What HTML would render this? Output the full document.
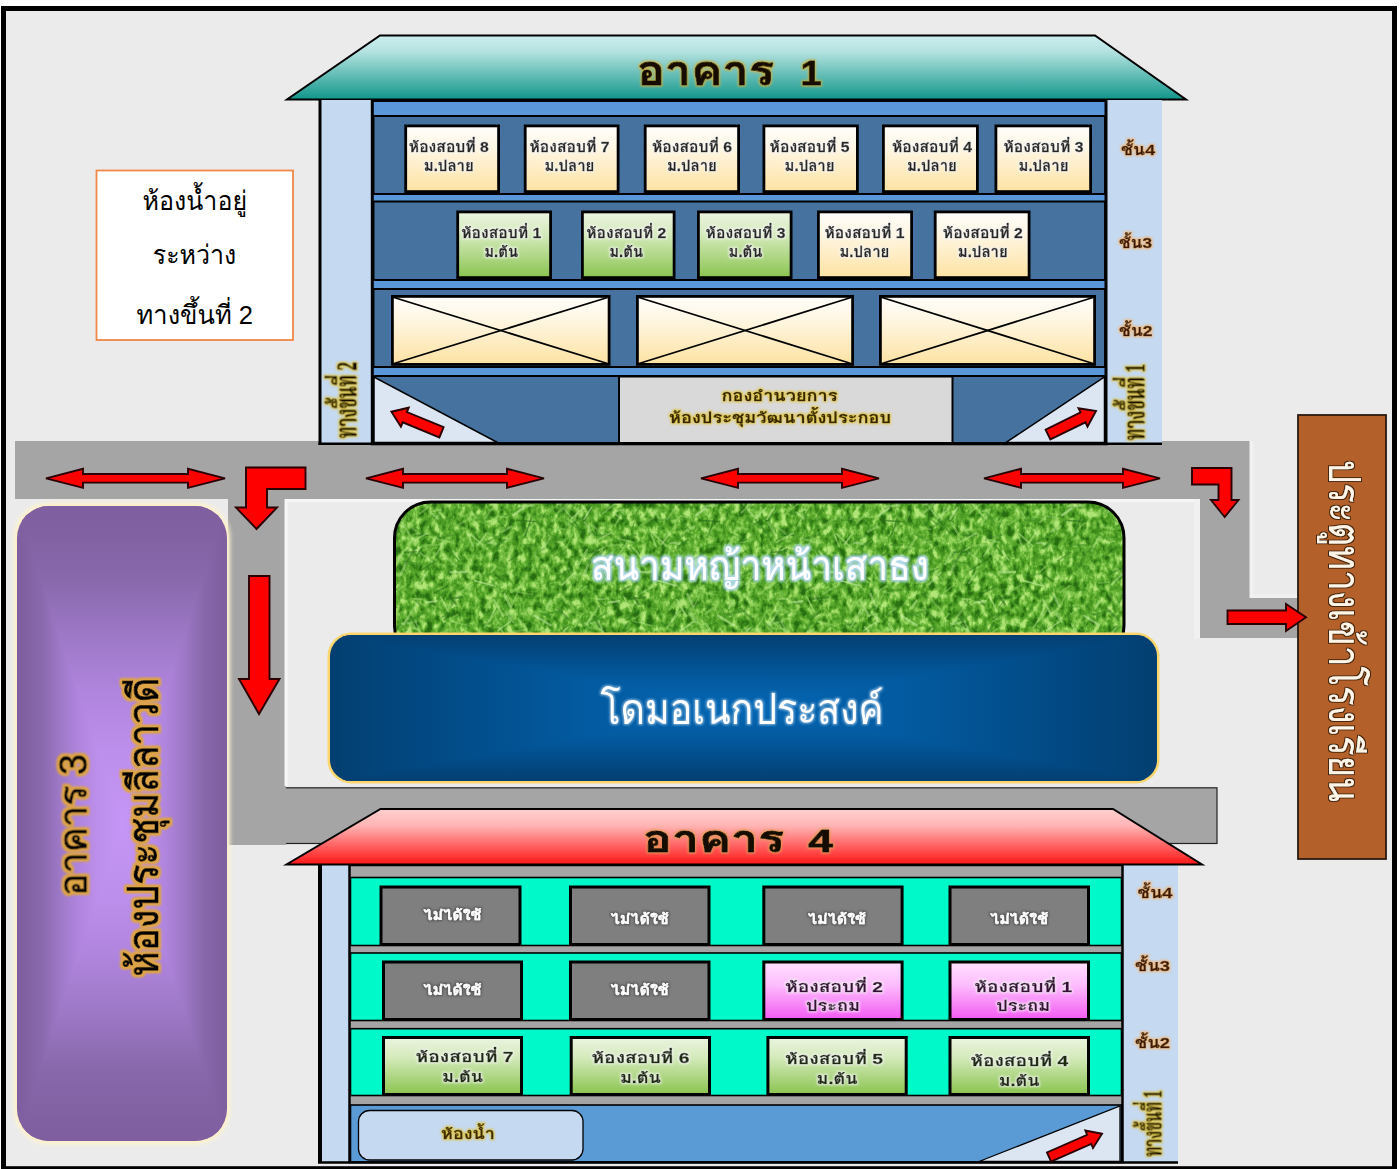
<!DOCTYPE html>
<html lang="th"><head><meta charset="utf-8"><title>แผนผังห้องสอบ</title>
<style>html,body{margin:0;padding:0;background:#fff}body{width:1400px;height:1169px;overflow:hidden}svg{display:block}</style>
</head><body>
<svg width="1400" height="1169" viewBox="0 0 1400 1169">
<defs>
<linearGradient id="roof1" x1="0" y1="0" x2="0" y2="1">
<stop offset="0" stop-color="#cdeeee"/>
<stop offset="0.25" stop-color="#b4e2e0"/>
<stop offset="1" stop-color="#11968a"/>
</linearGradient>
<linearGradient id="roof4" x1="0" y1="0" x2="0" y2="1">
<stop offset="0" stop-color="#ffd0d0"/>
<stop offset="0.3" stop-color="#ffb4b4"/>
<stop offset="1" stop-color="#ff1616"/>
</linearGradient>
<linearGradient id="org" x1="0" y1="0" x2="0" y2="1">
<stop offset="0" stop-color="#fffefb"/>
<stop offset="0.35" stop-color="#fff6e2"/>
<stop offset="1" stop-color="#fde2a2"/>
</linearGradient>
<linearGradient id="grn" x1="0" y1="0" x2="0" y2="1">
<stop offset="0" stop-color="#ebf4e0"/>
<stop offset="0.35" stop-color="#d4eabb"/>
<stop offset="1" stop-color="#8ac44f"/>
</linearGradient>
<linearGradient id="pnk" x1="0" y1="0" x2="0" y2="1">
<stop offset="0" stop-color="#ffe0ff"/>
<stop offset="0.4" stop-color="#fdbdfd"/>
<stop offset="1" stop-color="#f35af3"/>
</linearGradient>
<linearGradient id="pH" x1="0" y1="0" x2="1" y2="0">
<stop offset="0.0" stop-color="#7f5f9f"/>
<stop offset="0.03" stop-color="#8060a0"/>
<stop offset="0.112" stop-color="#8868ab"/>
<stop offset="0.203" stop-color="#9d78c6"/>
<stop offset="0.295" stop-color="#b085de"/>
<stop offset="0.3875" stop-color="#bd8fec"/>
<stop offset="0.5" stop-color="#c596f5"/>
<stop offset="0.6125" stop-color="#bd8fec"/>
<stop offset="0.7050000000000001" stop-color="#b085de"/>
<stop offset="0.7969999999999999" stop-color="#9d78c6"/>
<stop offset="0.888" stop-color="#8868ab"/>
<stop offset="0.97" stop-color="#8060a0"/>
<stop offset="1.0" stop-color="#7f5f9f"/>
</linearGradient>
<linearGradient id="pT" x1="0" y1="0" x2="0" y2="1">
<stop offset="0" stop-color="#7f5f9f"/>
<stop offset="0.06" stop-color="#8060a0"/>
<stop offset="0.224" stop-color="#8868ab"/>
<stop offset="0.406" stop-color="#9d78c6"/>
<stop offset="0.59" stop-color="#b085de"/>
<stop offset="0.775" stop-color="#bd8fec"/>
<stop offset="1" stop-color="#c596f5"/>
</linearGradient>
<linearGradient id="pB" x1="0" y1="0" x2="0" y2="1">
<stop offset="0" stop-color="#c596f5"/>
<stop offset="0.22499999999999998" stop-color="#bd8fec"/>
<stop offset="0.41000000000000003" stop-color="#b085de"/>
<stop offset="0.594" stop-color="#9d78c6"/>
<stop offset="0.776" stop-color="#8868ab"/>
<stop offset="0.94" stop-color="#8060a0"/>
<stop offset="1" stop-color="#7f5f9f"/>
</linearGradient>
<linearGradient id="dH" x1="0" y1="0" x2="1" y2="0">
<stop offset="0.0" stop-color="#033f70"/>
<stop offset="0.14" stop-color="#024b87"/>
<stop offset="0.3" stop-color="#035a9f"/>
<stop offset="0.5" stop-color="#0567b5"/>
<stop offset="0.7" stop-color="#035a9f"/>
<stop offset="0.86" stop-color="#024b87"/>
<stop offset="1.0" stop-color="#033f70"/>
</linearGradient>
<linearGradient id="dT" x1="0" y1="0" x2="0" y2="1">
<stop offset="0" stop-color="#033f70"/>
<stop offset="0.28" stop-color="#024b87"/>
<stop offset="0.6" stop-color="#035a9f"/>
<stop offset="1" stop-color="#0567b5"/>
</linearGradient>
<linearGradient id="dB" x1="0" y1="0" x2="0" y2="1">
<stop offset="0" stop-color="#0567b5"/>
<stop offset="0.4" stop-color="#035a9f"/>
<stop offset="0.72" stop-color="#024b87"/>
<stop offset="1" stop-color="#033f70"/>
</linearGradient>
<clipPath id="cpP"><rect x="17" y="506" width="210" height="635" rx="32"/></clipPath>
<clipPath id="cpD"><rect x="330" y="635" width="827" height="146" rx="21"/></clipPath>
<clipPath id="cpG"><rect x="394" y="501.5" width="730.5" height="160" rx="36"/></clipPath>
<filter id="gY" x="-20%" y="-40%" width="140%" height="180%"><feMorphology in="SourceAlpha" operator="dilate" radius="0.8" result="d"/><feGaussianBlur in="d" stdDeviation="1.0" result="b"/><feFlood flood-color="#e3c437" flood-opacity="0.85"/><feComposite in2="b" operator="in" result="g"/><feMerge><feMergeNode in="g"/><feMergeNode in="SourceGraphic"/></feMerge></filter>
<filter id="gO" x="-20%" y="-40%" width="140%" height="180%"><feMorphology in="SourceAlpha" operator="dilate" radius="0.8" result="d"/><feGaussianBlur in="d" stdDeviation="1.1" result="b"/><feFlood flood-color="#f3b877" flood-opacity="0.9"/><feComposite in2="b" operator="in" result="g"/><feMerge><feMergeNode in="g"/><feMergeNode in="SourceGraphic"/></feMerge></filter>
<filter id="gT" x="-20%" y="-40%" width="140%" height="180%"><feMorphology in="SourceAlpha" operator="dilate" radius="1.5" result="d"/><feGaussianBlur in="d" stdDeviation="1.0" result="b"/><feFlood flood-color="#dda446" flood-opacity="1"/><feComposite in2="b" operator="in" result="g"/><feMerge><feMergeNode in="g"/><feMergeNode in="g"/><feMergeNode in="SourceGraphic"/></feMerge></filter>
<filter id="gB" x="-20%" y="-40%" width="140%" height="180%"><feMorphology in="SourceAlpha" operator="dilate" radius="1.1" result="d"/><feGaussianBlur in="d" stdDeviation="1.5" result="b"/><feFlood flood-color="#b2daf0" flood-opacity="1"/><feComposite in2="b" operator="in" result="g"/><feMerge><feMergeNode in="g"/><feMergeNode in="g"/><feMergeNode in="SourceGraphic"/></feMerge></filter>
<filter id="gW" x="-20%" y="-40%" width="140%" height="180%"><feMorphology in="SourceAlpha" operator="dilate" radius="0.5" result="d"/><feGaussianBlur in="d" stdDeviation="1.2" result="b"/><feFlood flood-color="#cfe6fb" flood-opacity="0.6"/><feComposite in2="b" operator="in" result="g"/><feMerge><feMergeNode in="g"/><feMergeNode in="SourceGraphic"/></feMerge></filter>
<filter id="gT4" x="-20%" y="-40%" width="140%" height="180%"><feMorphology in="SourceAlpha" operator="dilate" radius="1.3" result="d"/><feGaussianBlur in="d" stdDeviation="0.9" result="b"/><feFlood flood-color="#e39a52" flood-opacity="0.9"/><feComposite in2="b" operator="in" result="g"/><feMerge><feMergeNode in="g"/><feMergeNode in="SourceGraphic"/></feMerge></filter>
<filter id="gYT" x="-20%" y="-40%" width="140%" height="180%"><feMorphology in="SourceAlpha" operator="dilate" radius="1.4" result="d"/><feGaussianBlur in="d" stdDeviation="0.8" result="b"/><feFlood flood-color="#c9b145" flood-opacity="0.95"/><feComposite in2="b" operator="in" result="g"/><feMerge><feMergeNode in="g"/><feMergeNode in="SourceGraphic"/></feMerge></filter>
<filter id="gK" x="-20%" y="-40%" width="140%" height="180%"><feMorphology in="SourceAlpha" operator="dilate" radius="0.6" result="d"/><feGaussianBlur in="d" stdDeviation="0.5" result="b"/><feFlood flood-color="#3a2008" flood-opacity="0.9"/><feComposite in2="b" operator="in" result="g"/><feMerge><feMergeNode in="g"/><feMergeNode in="SourceGraphic"/></feMerge></filter>
<filter id="gL" x="-20%" y="-40%" width="140%" height="180%"><feMorphology in="SourceAlpha" operator="dilate" radius="0.8" result="d"/><feGaussianBlur in="d" stdDeviation="1.0" result="b"/><feFlood flood-color="#f4f4f4" flood-opacity="0.8"/><feComposite in2="b" operator="in" result="g"/><feMerge><feMergeNode in="g"/><feMergeNode in="SourceGraphic"/></feMerge></filter>
<filter id="gD" x="-20%" y="-40%" width="140%" height="180%"><feMorphology in="SourceAlpha" operator="dilate" radius="0.8" result="d"/><feGaussianBlur in="d" stdDeviation="1.0" result="b"/><feFlood flood-color="#4a4a4a" flood-opacity="0.8"/><feComposite in2="b" operator="in" result="g"/><feMerge><feMergeNode in="g"/><feMergeNode in="SourceGraphic"/></feMerge></filter>
<filter id="grass" x="0" y="0" width="100%" height="100%" color-interpolation-filters="sRGB"><feTurbulence type="fractalNoise" baseFrequency="0.15 0.11" numOctaves="3" seed="7" result="n"/><feColorMatrix in="n" type="matrix" values="1.5 1.5 0 0 -1.0  1.5 1.5 0 0 -1.0  1.5 1.5 0 0 -1.0  0 0 0 0 1" result="a"/><feComponentTransfer in="a"><feFuncR type="table" tableValues="0.16 0.26 0.36 0.52 0.70"/><feFuncG type="table" tableValues="0.43 0.57 0.67 0.79 0.90"/><feFuncB type="table" tableValues="0.07 0.12 0.18 0.31 0.47"/></feComponentTransfer></filter>
<filter id="blur3" x="-10%" y="-5%" width="120%" height="110%"><feGaussianBlur stdDeviation="2.2"/></filter>
<radialGradient id="pRad" cx="0.47" cy="0.5" r="0.56"><stop offset="0" stop-color="#c899f8"/><stop offset="0.3" stop-color="#bd8eed"/><stop offset="0.65" stop-color="#9b75c3"/><stop offset="0.9" stop-color="#8162a2"/><stop offset="1" stop-color="#7e5f9e"/></radialGradient>
<pattern id="blades" x="394" y="501" width="183" height="134" patternUnits="userSpaceOnUse"><g stroke-linecap="round"><line x1="82.8" y1="75.0" x2="101.5" y2="71.9" stroke="#3a8a22" stroke-width="2.1" opacity="0.40"/><line x1="81.7" y1="19.0" x2="95.7" y2="18.2" stroke="#3a8a22" stroke-width="2.3" opacity="0.51"/><line x1="114.0" y1="111.4" x2="118.8" y2="117.6" stroke="#a6de7a" stroke-width="2.1" opacity="0.40"/><line x1="42.8" y1="39.4" x2="45.1" y2="32.8" stroke="#3a8a22" stroke-width="1.7" opacity="0.54"/><line x1="93.9" y1="4.0" x2="98.8" y2="-9.4" stroke="#246a16" stroke-width="2.2" opacity="0.40"/><line x1="93.9" y1="138.0" x2="98.8" y2="124.6" stroke="#246a16" stroke-width="2.2" opacity="0.40"/><line x1="169.6" y1="7.0" x2="177.2" y2="16.2" stroke="#c8f0a4" stroke-width="1.5" opacity="0.43"/><line x1="176.4" y1="101.6" x2="179.4" y2="93.6" stroke="#3a8a22" stroke-width="2.1" opacity="0.46"/><line x1="34.9" y1="98.1" x2="41.2" y2="104.1" stroke="#246a16" stroke-width="2.6" opacity="0.55"/><line x1="55.7" y1="118.6" x2="63.9" y2="113.4" stroke="#9bd968" stroke-width="1.9" opacity="0.35"/><line x1="111.7" y1="111.3" x2="118.8" y2="120.9" stroke="#c8f0a4" stroke-width="2.1" opacity="0.38"/><line x1="107.5" y1="111.5" x2="113.8" y2="105.5" stroke="#3a8a22" stroke-width="1.6" opacity="0.53"/><line x1="172.1" y1="26.3" x2="188.7" y2="16.4" stroke="#2f7d1c" stroke-width="2.6" opacity="0.41"/><line x1="-10.9" y1="26.3" x2="5.7" y2="16.4" stroke="#2f7d1c" stroke-width="2.6" opacity="0.41"/><line x1="128.9" y1="34.4" x2="141.4" y2="21.9" stroke="#9bd968" stroke-width="1.7" opacity="0.49"/><line x1="156.0" y1="82.3" x2="166.6" y2="81.0" stroke="#9bd968" stroke-width="1.5" opacity="0.39"/><line x1="67.5" y1="76.7" x2="75.0" y2="72.3" stroke="#2f7d1c" stroke-width="1.4" opacity="0.35"/><line x1="166.6" y1="93.9" x2="180.0" y2="108.1" stroke="#9bd968" stroke-width="2.6" opacity="0.37"/><line x1="99.9" y1="98.8" x2="109.1" y2="115.1" stroke="#b4e688" stroke-width="2.2" opacity="0.58"/><line x1="159.4" y1="55.9" x2="174.1" y2="46.8" stroke="#2f7d1c" stroke-width="1.5" opacity="0.37"/><line x1="21.2" y1="34.5" x2="33.6" y2="34.2" stroke="#246a16" stroke-width="2.0" opacity="0.48"/><line x1="94.2" y1="41.6" x2="102.2" y2="42.8" stroke="#c8f0a4" stroke-width="2.5" opacity="0.44"/><line x1="26.2" y1="82.0" x2="33.5" y2="70.3" stroke="#c8f0a4" stroke-width="1.9" opacity="0.41"/><line x1="116.1" y1="107.7" x2="123.3" y2="92.6" stroke="#9bd968" stroke-width="1.6" opacity="0.44"/><line x1="163.9" y1="5.4" x2="170.4" y2="1.1" stroke="#246a16" stroke-width="1.9" opacity="0.51"/><line x1="90.4" y1="42.3" x2="106.5" y2="34.4" stroke="#3a8a22" stroke-width="2.3" opacity="0.49"/><line x1="56.6" y1="106.1" x2="61.0" y2="100.3" stroke="#246a16" stroke-width="1.6" opacity="0.36"/><line x1="115.1" y1="59.8" x2="127.6" y2="51.2" stroke="#246a16" stroke-width="2.0" opacity="0.39"/><line x1="2.0" y1="63.3" x2="9.8" y2="49.0" stroke="#a6de7a" stroke-width="2.4" opacity="0.52"/><line x1="41.0" y1="55.0" x2="51.5" y2="39.7" stroke="#a6de7a" stroke-width="2.1" opacity="0.51"/><line x1="92.0" y1="109.8" x2="97.9" y2="100.0" stroke="#9bd968" stroke-width="1.7" opacity="0.45"/><line x1="16.1" y1="41.5" x2="33.4" y2="32.2" stroke="#b4e688" stroke-width="1.9" opacity="0.49"/><line x1="140.6" y1="65.3" x2="144.2" y2="71.8" stroke="#3a8a22" stroke-width="2.3" opacity="0.39"/><line x1="27.2" y1="69.2" x2="41.0" y2="60.3" stroke="#246a16" stroke-width="1.7" opacity="0.48"/><line x1="53.1" y1="97.7" x2="68.3" y2="96.2" stroke="#246a16" stroke-width="2.4" opacity="0.50"/><line x1="55.7" y1="18.9" x2="62.5" y2="6.6" stroke="#2f7d1c" stroke-width="1.9" opacity="0.48"/><line x1="8.0" y1="122.9" x2="21.9" y2="120.5" stroke="#a6de7a" stroke-width="2.5" opacity="0.55"/><line x1="74.0" y1="33.0" x2="79.2" y2="45.4" stroke="#b4e688" stroke-width="1.6" opacity="0.50"/><line x1="169.3" y1="17.3" x2="183.3" y2="27.2" stroke="#3a8a22" stroke-width="1.8" opacity="0.50"/><line x1="-13.7" y1="17.3" x2="0.3" y2="27.2" stroke="#3a8a22" stroke-width="1.8" opacity="0.50"/><line x1="19.2" y1="97.9" x2="27.8" y2="98.1" stroke="#b4e688" stroke-width="1.9" opacity="0.45"/><line x1="96.9" y1="21.4" x2="103.9" y2="14.8" stroke="#9bd968" stroke-width="2.5" opacity="0.51"/><line x1="63.6" y1="24.3" x2="76.4" y2="16.7" stroke="#9bd968" stroke-width="2.5" opacity="0.38"/><line x1="16.1" y1="52.0" x2="27.3" y2="46.1" stroke="#b4e688" stroke-width="1.6" opacity="0.52"/><line x1="166.8" y1="129.8" x2="173.6" y2="124.6" stroke="#246a16" stroke-width="1.5" opacity="0.38"/><line x1="6.9" y1="73.9" x2="12.1" y2="61.3" stroke="#c8f0a4" stroke-width="2.5" opacity="0.37"/><line x1="11.3" y1="127.5" x2="24.3" y2="127.6" stroke="#9bd968" stroke-width="2.1" opacity="0.35"/><line x1="128.3" y1="113.1" x2="135.7" y2="107.4" stroke="#b4e688" stroke-width="2.0" opacity="0.35"/><line x1="163.5" y1="107.4" x2="175.2" y2="118.5" stroke="#246a16" stroke-width="2.3" opacity="0.42"/><line x1="21.3" y1="99.6" x2="28.2" y2="105.4" stroke="#246a16" stroke-width="1.9" opacity="0.40"/><line x1="37.8" y1="24.8" x2="46.6" y2="9.7" stroke="#9bd968" stroke-width="1.7" opacity="0.59"/><line x1="54.7" y1="29.0" x2="58.7" y2="17.3" stroke="#3a8a22" stroke-width="1.5" opacity="0.45"/><line x1="105.2" y1="15.4" x2="113.5" y2="16.5" stroke="#b4e688" stroke-width="1.5" opacity="0.41"/><line x1="165.7" y1="73.7" x2="177.9" y2="67.6" stroke="#2f7d1c" stroke-width="2.1" opacity="0.54"/><line x1="8.3" y1="124.6" x2="13.9" y2="117.5" stroke="#a6de7a" stroke-width="2.5" opacity="0.46"/><line x1="96.4" y1="80.1" x2="103.9" y2="89.1" stroke="#b4e688" stroke-width="1.4" opacity="0.41"/><line x1="7.8" y1="21.0" x2="16.6" y2="35.3" stroke="#b4e688" stroke-width="2.4" opacity="0.41"/><line x1="131.6" y1="33.6" x2="137.3" y2="17.8" stroke="#246a16" stroke-width="1.7" opacity="0.53"/><line x1="9.2" y1="55.9" x2="13.9" y2="48.7" stroke="#3a8a22" stroke-width="1.9" opacity="0.50"/><line x1="117.0" y1="91.4" x2="126.7" y2="84.8" stroke="#9bd968" stroke-width="2.0" opacity="0.48"/><line x1="56.5" y1="68.0" x2="69.3" y2="55.4" stroke="#3a8a22" stroke-width="1.7" opacity="0.41"/><line x1="174.2" y1="67.3" x2="183.5" y2="79.7" stroke="#a6de7a" stroke-width="1.4" opacity="0.36"/><line x1="-8.8" y1="67.3" x2="0.5" y2="79.7" stroke="#a6de7a" stroke-width="1.4" opacity="0.36"/><line x1="40.7" y1="37.3" x2="57.0" y2="41.5" stroke="#a6de7a" stroke-width="1.8" opacity="0.43"/><line x1="90.5" y1="17.9" x2="101.6" y2="3.3" stroke="#a6de7a" stroke-width="1.9" opacity="0.41"/><line x1="148.2" y1="49.4" x2="156.3" y2="36.2" stroke="#a6de7a" stroke-width="2.2" opacity="0.50"/><line x1="84.5" y1="43.4" x2="92.9" y2="32.1" stroke="#b4e688" stroke-width="1.8" opacity="0.58"/><line x1="110.5" y1="93.1" x2="116.2" y2="105.3" stroke="#c8f0a4" stroke-width="2.5" opacity="0.43"/><line x1="80.7" y1="79.7" x2="98.8" y2="84.5" stroke="#c8f0a4" stroke-width="1.7" opacity="0.59"/><line x1="133.6" y1="69.2" x2="135.8" y2="61.4" stroke="#3a8a22" stroke-width="2.1" opacity="0.55"/><line x1="98.9" y1="112.1" x2="104.7" y2="99.0" stroke="#9bd968" stroke-width="2.0" opacity="0.49"/><line x1="103.8" y1="129.5" x2="116.5" y2="120.7" stroke="#c8f0a4" stroke-width="1.5" opacity="0.53"/><line x1="164.5" y1="11.3" x2="176.6" y2="2.0" stroke="#a6de7a" stroke-width="2.3" opacity="0.48"/><line x1="139.9" y1="52.8" x2="150.1" y2="47.7" stroke="#3a8a22" stroke-width="2.1" opacity="0.36"/><line x1="138.5" y1="132.1" x2="141.6" y2="120.9" stroke="#2f7d1c" stroke-width="1.8" opacity="0.35"/><line x1="20.1" y1="123.8" x2="31.3" y2="139.0" stroke="#9bd968" stroke-width="1.9" opacity="0.48"/><line x1="20.1" y1="-10.2" x2="31.3" y2="5.0" stroke="#9bd968" stroke-width="1.9" opacity="0.48"/><line x1="50.1" y1="118.7" x2="60.4" y2="110.6" stroke="#246a16" stroke-width="2.0" opacity="0.50"/><line x1="166.4" y1="4.9" x2="170.1" y2="-2.7" stroke="#a6de7a" stroke-width="1.6" opacity="0.42"/><line x1="166.4" y1="138.9" x2="170.1" y2="131.3" stroke="#a6de7a" stroke-width="1.6" opacity="0.42"/><line x1="31.6" y1="101.5" x2="42.5" y2="100.1" stroke="#c8f0a4" stroke-width="2.2" opacity="0.54"/><line x1="16.9" y1="115.6" x2="22.8" y2="126.2" stroke="#246a16" stroke-width="2.6" opacity="0.51"/><line x1="43.5" y1="1.5" x2="54.2" y2="-6.1" stroke="#a6de7a" stroke-width="1.6" opacity="0.43"/><line x1="43.5" y1="135.5" x2="54.2" y2="127.9" stroke="#a6de7a" stroke-width="1.6" opacity="0.43"/><line x1="47.5" y1="116.5" x2="59.9" y2="110.6" stroke="#2f7d1c" stroke-width="2.3" opacity="0.35"/><line x1="150.3" y1="113.4" x2="167.6" y2="109.7" stroke="#3a8a22" stroke-width="2.0" opacity="0.59"/><line x1="107.4" y1="114.9" x2="118.1" y2="112.6" stroke="#9bd968" stroke-width="1.4" opacity="0.45"/><line x1="90.4" y1="126.8" x2="100.4" y2="110.1" stroke="#c8f0a4" stroke-width="1.5" opacity="0.39"/><line x1="122.2" y1="90.6" x2="138.6" y2="93.7" stroke="#9bd968" stroke-width="1.8" opacity="0.38"/><line x1="141.2" y1="114.7" x2="156.5" y2="124.2" stroke="#c8f0a4" stroke-width="2.3" opacity="0.49"/><line x1="15.9" y1="25.3" x2="25.4" y2="32.5" stroke="#a6de7a" stroke-width="2.4" opacity="0.37"/><line x1="25.8" y1="12.6" x2="38.0" y2="2.6" stroke="#b4e688" stroke-width="1.7" opacity="0.39"/><line x1="22.7" y1="54.5" x2="27.4" y2="48.1" stroke="#246a16" stroke-width="2.2" opacity="0.47"/><line x1="168.6" y1="83.5" x2="180.4" y2="72.0" stroke="#c8f0a4" stroke-width="1.8" opacity="0.44"/><line x1="119.1" y1="14.2" x2="128.8" y2="7.3" stroke="#c8f0a4" stroke-width="2.3" opacity="0.58"/><line x1="100.3" y1="47.2" x2="110.8" y2="38.7" stroke="#2f7d1c" stroke-width="2.5" opacity="0.51"/><line x1="36.2" y1="11.2" x2="44.0" y2="17.7" stroke="#c8f0a4" stroke-width="2.0" opacity="0.38"/><line x1="178.2" y1="18.2" x2="190.2" y2="32.6" stroke="#2f7d1c" stroke-width="1.6" opacity="0.58"/><line x1="-4.8" y1="18.2" x2="7.2" y2="32.6" stroke="#2f7d1c" stroke-width="1.6" opacity="0.58"/><line x1="0.7" y1="91.8" x2="10.1" y2="84.7" stroke="#a6de7a" stroke-width="1.4" opacity="0.40"/><line x1="183.7" y1="91.8" x2="193.1" y2="84.7" stroke="#a6de7a" stroke-width="1.4" opacity="0.40"/><line x1="180.6" y1="125.9" x2="188.5" y2="112.5" stroke="#9bd968" stroke-width="1.6" opacity="0.47"/><line x1="-2.4" y1="125.9" x2="5.5" y2="112.5" stroke="#9bd968" stroke-width="1.6" opacity="0.47"/><line x1="26.2" y1="51.8" x2="37.7" y2="60.4" stroke="#b4e688" stroke-width="2.2" opacity="0.36"/><line x1="122.8" y1="19.4" x2="142.2" y2="20.7" stroke="#246a16" stroke-width="1.7" opacity="0.57"/><line x1="84.8" y1="121.3" x2="98.6" y2="129.4" stroke="#2f7d1c" stroke-width="2.0" opacity="0.46"/><line x1="4.4" y1="121.6" x2="12.5" y2="128.8" stroke="#2f7d1c" stroke-width="2.5" opacity="0.41"/><line x1="154.5" y1="32.5" x2="170.5" y2="41.6" stroke="#3a8a22" stroke-width="1.9" opacity="0.41"/><line x1="12.5" y1="122.1" x2="29.2" y2="111.8" stroke="#3a8a22" stroke-width="2.3" opacity="0.49"/><line x1="165.3" y1="13.2" x2="176.9" y2="0.3" stroke="#3a8a22" stroke-width="1.8" opacity="0.43"/><line x1="165.3" y1="147.2" x2="176.9" y2="134.3" stroke="#3a8a22" stroke-width="1.8" opacity="0.43"/><line x1="11.5" y1="119.9" x2="21.5" y2="105.5" stroke="#a6de7a" stroke-width="2.5" opacity="0.43"/><line x1="91.2" y1="125.1" x2="103.5" y2="109.8" stroke="#9bd968" stroke-width="1.8" opacity="0.56"/><line x1="164.6" y1="2.1" x2="176.2" y2="-7.7" stroke="#3a8a22" stroke-width="1.5" opacity="0.53"/><line x1="164.6" y1="136.1" x2="176.2" y2="126.3" stroke="#3a8a22" stroke-width="1.5" opacity="0.53"/><line x1="57.3" y1="120.6" x2="75.1" y2="124.8" stroke="#a6de7a" stroke-width="1.5" opacity="0.41"/><line x1="56.2" y1="95.2" x2="61.7" y2="103.0" stroke="#246a16" stroke-width="2.2" opacity="0.57"/><line x1="108.0" y1="30.7" x2="117.5" y2="25.5" stroke="#a6de7a" stroke-width="2.6" opacity="0.46"/><line x1="96.7" y1="71.1" x2="102.0" y2="65.8" stroke="#9bd968" stroke-width="1.7" opacity="0.54"/><line x1="45.0" y1="37.4" x2="58.7" y2="34.0" stroke="#246a16" stroke-width="2.1" opacity="0.35"/><line x1="163.2" y1="8.1" x2="169.5" y2="3.4" stroke="#2f7d1c" stroke-width="1.7" opacity="0.56"/><line x1="116.2" y1="131.8" x2="132.5" y2="128.4" stroke="#9bd968" stroke-width="2.2" opacity="0.49"/><line x1="46.9" y1="96.0" x2="54.2" y2="110.6" stroke="#b4e688" stroke-width="1.6" opacity="0.59"/><line x1="9.6" y1="60.1" x2="27.8" y2="63.0" stroke="#3a8a22" stroke-width="1.7" opacity="0.55"/><line x1="13.3" y1="121.6" x2="25.0" y2="130.0" stroke="#a6de7a" stroke-width="1.5" opacity="0.43"/><line x1="113.7" y1="70.4" x2="118.6" y2="79.6" stroke="#9bd968" stroke-width="1.6" opacity="0.52"/><line x1="152.1" y1="105.4" x2="156.6" y2="99.1" stroke="#9bd968" stroke-width="2.0" opacity="0.54"/><line x1="180.5" y1="19.4" x2="184.2" y2="7.0" stroke="#b4e688" stroke-width="1.9" opacity="0.42"/><line x1="-2.5" y1="19.4" x2="1.2" y2="7.0" stroke="#b4e688" stroke-width="1.9" opacity="0.42"/><line x1="77.7" y1="10.2" x2="81.6" y2="16.6" stroke="#b4e688" stroke-width="2.1" opacity="0.41"/><line x1="84.5" y1="124.9" x2="95.9" y2="122.1" stroke="#2f7d1c" stroke-width="2.2" opacity="0.36"/><line x1="62.8" y1="93.1" x2="78.5" y2="83.8" stroke="#a6de7a" stroke-width="1.9" opacity="0.36"/><line x1="76.6" y1="33.0" x2="89.2" y2="44.8" stroke="#a6de7a" stroke-width="1.9" opacity="0.60"/><line x1="124.3" y1="115.6" x2="129.7" y2="123.6" stroke="#2f7d1c" stroke-width="1.4" opacity="0.40"/><line x1="48.0" y1="52.7" x2="62.3" y2="65.2" stroke="#9bd968" stroke-width="2.3" opacity="0.53"/><line x1="166.0" y1="2.7" x2="172.3" y2="-6.5" stroke="#c8f0a4" stroke-width="1.9" opacity="0.41"/><line x1="166.0" y1="136.7" x2="172.3" y2="127.5" stroke="#c8f0a4" stroke-width="1.9" opacity="0.41"/><line x1="7.5" y1="20.2" x2="15.0" y2="7.5" stroke="#2f7d1c" stroke-width="2.2" opacity="0.42"/><line x1="132.8" y1="89.3" x2="141.7" y2="88.8" stroke="#2f7d1c" stroke-width="2.4" opacity="0.41"/><line x1="53.4" y1="46.2" x2="59.3" y2="54.1" stroke="#3a8a22" stroke-width="2.2" opacity="0.58"/><line x1="39.6" y1="92.4" x2="53.5" y2="85.2" stroke="#246a16" stroke-width="1.9" opacity="0.45"/><line x1="11.0" y1="51.4" x2="22.3" y2="50.8" stroke="#246a16" stroke-width="1.6" opacity="0.52"/><line x1="43.9" y1="12.5" x2="51.1" y2="21.4" stroke="#3a8a22" stroke-width="2.5" opacity="0.58"/><line x1="22.0" y1="121.9" x2="30.6" y2="138.7" stroke="#c8f0a4" stroke-width="1.5" opacity="0.36"/><line x1="22.0" y1="-12.1" x2="30.6" y2="4.7" stroke="#c8f0a4" stroke-width="1.5" opacity="0.36"/><line x1="59.2" y1="50.0" x2="65.6" y2="58.8" stroke="#c8f0a4" stroke-width="1.4" opacity="0.53"/><line x1="39.6" y1="10.1" x2="47.1" y2="8.4" stroke="#a6de7a" stroke-width="1.9" opacity="0.58"/><line x1="7.0" y1="18.2" x2="14.4" y2="6.8" stroke="#c8f0a4" stroke-width="1.7" opacity="0.52"/><line x1="42.9" y1="0.1" x2="50.9" y2="-11.4" stroke="#2f7d1c" stroke-width="2.4" opacity="0.57"/><line x1="42.9" y1="134.1" x2="50.9" y2="122.6" stroke="#2f7d1c" stroke-width="2.4" opacity="0.57"/><line x1="126.5" y1="106.7" x2="136.8" y2="105.2" stroke="#3a8a22" stroke-width="1.6" opacity="0.40"/><line x1="29.5" y1="44.6" x2="45.4" y2="43.5" stroke="#9bd968" stroke-width="2.2" opacity="0.44"/><line x1="129.2" y1="122.9" x2="137.1" y2="137.6" stroke="#b4e688" stroke-width="2.4" opacity="0.48"/><line x1="129.2" y1="-11.1" x2="137.1" y2="3.6" stroke="#b4e688" stroke-width="2.4" opacity="0.48"/><line x1="124.3" y1="5.4" x2="139.4" y2="4.6" stroke="#c8f0a4" stroke-width="2.3" opacity="0.41"/><line x1="131.0" y1="43.8" x2="142.3" y2="44.2" stroke="#3a8a22" stroke-width="2.2" opacity="0.51"/><line x1="152.1" y1="107.4" x2="156.9" y2="100.2" stroke="#a6de7a" stroke-width="2.1" opacity="0.59"/><line x1="177.6" y1="17.9" x2="189.2" y2="7.0" stroke="#b4e688" stroke-width="1.6" opacity="0.60"/><line x1="-5.4" y1="17.9" x2="6.2" y2="7.0" stroke="#b4e688" stroke-width="1.6" opacity="0.60"/><line x1="159.4" y1="26.0" x2="170.7" y2="28.4" stroke="#9bd968" stroke-width="1.8" opacity="0.43"/><line x1="146.5" y1="112.4" x2="156.8" y2="115.0" stroke="#3a8a22" stroke-width="2.2" opacity="0.49"/><line x1="146.4" y1="19.7" x2="149.7" y2="11.0" stroke="#9bd968" stroke-width="1.8" opacity="0.35"/><line x1="103.6" y1="19.2" x2="113.9" y2="30.3" stroke="#2f7d1c" stroke-width="1.5" opacity="0.37"/><line x1="163.4" y1="41.5" x2="171.3" y2="40.2" stroke="#a6de7a" stroke-width="1.4" opacity="0.44"/><line x1="102.4" y1="74.7" x2="110.3" y2="80.5" stroke="#246a16" stroke-width="1.7" opacity="0.55"/><line x1="104.5" y1="126.1" x2="109.5" y2="131.8" stroke="#c8f0a4" stroke-width="1.4" opacity="0.49"/><line x1="11.5" y1="62.4" x2="21.7" y2="46.9" stroke="#246a16" stroke-width="2.5" opacity="0.47"/><line x1="56.4" y1="71.2" x2="72.0" y2="71.1" stroke="#c8f0a4" stroke-width="2.5" opacity="0.51"/></g></pattern>
<filter id="soft" x="0" y="0" width="100%" height="100%"><feGaussianBlur stdDeviation="0.6"/></filter>
</defs>
<rect x="0.0" y="0.0" width="1400.0" height="1169.0" fill="#ffffff" />
<rect x="3.5" y="8.5" width="1391.0" height="1160.2" fill="#ebebeb" stroke="#000" stroke-width="5" />
<rect x="284.5" y="499.0" width="915.5" height="3.0" fill="#f6f6f6" />
<rect x="284.5" y="499.0" width="3.0" height="288.5" fill="#f6f6f6" />
<rect x="1194.0" y="499.0" width="6.0" height="139.5" fill="#f1f1f1" />
<rect x="1249.5" y="441.0" width="4.0" height="157.0" fill="#f1f1f1" />
<rect x="1249.5" y="594.5" width="48.5" height="3.5" fill="#f1f1f1" />
<rect x="15.0" y="441.0" width="1234.5" height="58.0" fill="#a5a5a5" />
<rect x="228.0" y="499.0" width="56.5" height="345.0" fill="#a5a5a5" />
<rect x="1200.0" y="499.0" width="49.5" height="139.0" fill="#a5a5a5" />
<rect x="1200.0" y="598.0" width="98.0" height="40.0" fill="#a5a5a5" />
<rect x="284.5" y="787.8" width="932.5" height="55.7" fill="#a5a5a5" stroke="#222" stroke-width="1.2" />
<rect x="228.0" y="786.0" width="58.0" height="59.0" fill="#a5a5a5" />
<rect x="96.5" y="170.5" width="196.5" height="169.5" fill="#ffffff" stroke="#f08848" stroke-width="1.8" />
<text x="194.8" y="210.0" font-size="26.5" font-weight="normal" fill="#000" text-anchor="middle" font-family='"Liberation Sans","Loma","Noto Sans Thai Looped","Sarabun",sans-serif' textLength="104.5" lengthAdjust="spacingAndGlyphs" >ห้องน้ำอยู่</text>
<text x="194.5" y="264.0" font-size="26.5" font-weight="normal" fill="#000" text-anchor="middle" font-family='"Liberation Sans","Loma","Noto Sans Thai Looped","Sarabun",sans-serif' textLength="83.5" lengthAdjust="spacingAndGlyphs" >ระหว่าง</text>
<text x="194.8" y="324.0" font-size="26.5" font-weight="normal" fill="#000" text-anchor="middle" font-family='"Liberation Sans","Loma","Noto Sans Thai Looped","Sarabun",sans-serif' textLength="116.5" lengthAdjust="spacingAndGlyphs" >ทางขึ้นที่ 2</text>
<polygon points="380.0,35.5 1095.0,35.5 1186.0,99.5 287.0,99.5" fill="url(#roof1)" stroke="#000" stroke-width="2" stroke-linejoin="miter" />
<rect x="320.5" y="100.0" width="51.5" height="344.0" fill="#c5d9f1" />
<line x1="320.0" y1="99.0" x2="320.0" y2="445.0" stroke="#000" stroke-width="3"/>
<rect x="1106.0" y="100.0" width="56.0" height="344.0" fill="#c5d9f1" />
<rect x="372.3" y="100.5" width="733.7" height="343.3" fill="#5a97d8" stroke="#000" stroke-width="3" />
<rect x="373.5" y="116.0" width="731.5" height="78.0" fill="#45729f" stroke="#000" stroke-width="2" />
<rect x="373.5" y="201.5" width="731.5" height="78.5" fill="#45729f" stroke="#000" stroke-width="2" />
<rect x="373.5" y="289.0" width="731.5" height="78.0" fill="#45729f" stroke="#000" stroke-width="2" />
<rect x="373.5" y="376.0" width="731.5" height="67.0" fill="#45729f" stroke="#000" stroke-width="2" />
<line x1="318.5" y1="443.8" x2="1162.0" y2="443.8" stroke="#000" stroke-width="2.6"/>
<rect x="405.7" y="125.9" width="92.9" height="65.7" fill="url(#org)" stroke="#000" stroke-width="2.8" />
<text x="448.8" y="152.3" font-size="14.6" font-weight="bold" fill="#262626" text-anchor="middle" font-family='"Liberation Sans","Loma","Noto Sans Thai Looped","Sarabun",sans-serif' textLength="80.0" lengthAdjust="spacingAndGlyphs" filter="url(#gL)" stroke="#262626" stroke-width="0.35" stroke-linejoin="round" >ห้องสอบที่ 8</text>
<text x="448.8" y="171.3" font-size="14.6" font-weight="bold" fill="#262626" text-anchor="middle" font-family='"Liberation Sans","Loma","Noto Sans Thai Looped","Sarabun",sans-serif' textLength="50.0" lengthAdjust="spacingAndGlyphs" filter="url(#gL)" stroke="#262626" stroke-width="0.35" stroke-linejoin="round" >ม.ปลาย</text>
<rect x="525.2" y="125.9" width="92.9" height="65.7" fill="url(#org)" stroke="#000" stroke-width="2.8" />
<text x="569.4" y="152.3" font-size="14.6" font-weight="bold" fill="#262626" text-anchor="middle" font-family='"Liberation Sans","Loma","Noto Sans Thai Looped","Sarabun",sans-serif' textLength="80.0" lengthAdjust="spacingAndGlyphs" filter="url(#gL)" stroke="#262626" stroke-width="0.35" stroke-linejoin="round" >ห้องสอบที่ 7</text>
<text x="569.4" y="171.3" font-size="14.6" font-weight="bold" fill="#262626" text-anchor="middle" font-family='"Liberation Sans","Loma","Noto Sans Thai Looped","Sarabun",sans-serif' textLength="50.0" lengthAdjust="spacingAndGlyphs" filter="url(#gL)" stroke="#262626" stroke-width="0.35" stroke-linejoin="round" >ม.ปลาย</text>
<rect x="645.2" y="125.9" width="93.4" height="65.7" fill="url(#org)" stroke="#000" stroke-width="2.8" />
<text x="691.9" y="152.3" font-size="14.6" font-weight="bold" fill="#262626" text-anchor="middle" font-family='"Liberation Sans","Loma","Noto Sans Thai Looped","Sarabun",sans-serif' textLength="80.0" lengthAdjust="spacingAndGlyphs" filter="url(#gL)" stroke="#262626" stroke-width="0.35" stroke-linejoin="round" >ห้องสอบที่ 6</text>
<text x="691.9" y="171.3" font-size="14.6" font-weight="bold" fill="#262626" text-anchor="middle" font-family='"Liberation Sans","Loma","Noto Sans Thai Looped","Sarabun",sans-serif' textLength="50.0" lengthAdjust="spacingAndGlyphs" filter="url(#gL)" stroke="#262626" stroke-width="0.35" stroke-linejoin="round" >ม.ปลาย</text>
<rect x="763.9" y="125.9" width="93.5" height="65.7" fill="url(#org)" stroke="#000" stroke-width="2.8" />
<text x="809.6" y="152.3" font-size="14.6" font-weight="bold" fill="#262626" text-anchor="middle" font-family='"Liberation Sans","Loma","Noto Sans Thai Looped","Sarabun",sans-serif' textLength="80.0" lengthAdjust="spacingAndGlyphs" filter="url(#gL)" stroke="#262626" stroke-width="0.35" stroke-linejoin="round" >ห้องสอบที่ 5</text>
<text x="809.6" y="171.3" font-size="14.6" font-weight="bold" fill="#262626" text-anchor="middle" font-family='"Liberation Sans","Loma","Noto Sans Thai Looped","Sarabun",sans-serif' textLength="50.0" lengthAdjust="spacingAndGlyphs" filter="url(#gL)" stroke="#262626" stroke-width="0.35" stroke-linejoin="round" >ม.ปลาย</text>
<rect x="883.4" y="125.9" width="94.0" height="65.7" fill="url(#org)" stroke="#000" stroke-width="2.8" />
<text x="931.9" y="152.3" font-size="14.6" font-weight="bold" fill="#262626" text-anchor="middle" font-family='"Liberation Sans","Loma","Noto Sans Thai Looped","Sarabun",sans-serif' textLength="80.0" lengthAdjust="spacingAndGlyphs" filter="url(#gL)" stroke="#262626" stroke-width="0.35" stroke-linejoin="round" >ห้องสอบที่ 4</text>
<text x="931.9" y="171.3" font-size="14.6" font-weight="bold" fill="#262626" text-anchor="middle" font-family='"Liberation Sans","Loma","Noto Sans Thai Looped","Sarabun",sans-serif' textLength="50.0" lengthAdjust="spacingAndGlyphs" filter="url(#gL)" stroke="#262626" stroke-width="0.35" stroke-linejoin="round" >ม.ปลาย</text>
<rect x="995.9" y="125.9" width="94.7" height="65.7" fill="url(#org)" stroke="#000" stroke-width="2.8" />
<text x="1043.5" y="152.3" font-size="14.6" font-weight="bold" fill="#262626" text-anchor="middle" font-family='"Liberation Sans","Loma","Noto Sans Thai Looped","Sarabun",sans-serif' textLength="80.0" lengthAdjust="spacingAndGlyphs" filter="url(#gL)" stroke="#262626" stroke-width="0.35" stroke-linejoin="round" >ห้องสอบที่ 3</text>
<text x="1043.5" y="171.3" font-size="14.6" font-weight="bold" fill="#262626" text-anchor="middle" font-family='"Liberation Sans","Loma","Noto Sans Thai Looped","Sarabun",sans-serif' textLength="50.0" lengthAdjust="spacingAndGlyphs" filter="url(#gL)" stroke="#262626" stroke-width="0.35" stroke-linejoin="round" >ม.ปลาย</text>
<rect x="457.7" y="211.9" width="92.9" height="65.7" fill="url(#grn)" stroke="#000" stroke-width="2.8" />
<text x="501.2" y="238.0" font-size="14.6" font-weight="bold" fill="#262626" text-anchor="middle" font-family='"Liberation Sans","Loma","Noto Sans Thai Looped","Sarabun",sans-serif' textLength="80.0" lengthAdjust="spacingAndGlyphs" filter="url(#gL)" stroke="#262626" stroke-width="0.35" stroke-linejoin="round" >ห้องสอบที่ 1</text>
<text x="501.2" y="257.0" font-size="14.6" font-weight="bold" fill="#262626" text-anchor="middle" font-family='"Liberation Sans","Loma","Noto Sans Thai Looped","Sarabun",sans-serif' textLength="34.0" lengthAdjust="spacingAndGlyphs" filter="url(#gL)" stroke="#262626" stroke-width="0.35" stroke-linejoin="round" >ม.ต้น</text>
<rect x="582.4" y="211.9" width="91.7" height="65.7" fill="url(#grn)" stroke="#000" stroke-width="2.8" />
<text x="626.2" y="238.0" font-size="14.6" font-weight="bold" fill="#262626" text-anchor="middle" font-family='"Liberation Sans","Loma","Noto Sans Thai Looped","Sarabun",sans-serif' textLength="80.0" lengthAdjust="spacingAndGlyphs" filter="url(#gL)" stroke="#262626" stroke-width="0.35" stroke-linejoin="round" >ห้องสอบที่ 2</text>
<text x="626.2" y="257.0" font-size="14.6" font-weight="bold" fill="#262626" text-anchor="middle" font-family='"Liberation Sans","Loma","Noto Sans Thai Looped","Sarabun",sans-serif' textLength="34.0" lengthAdjust="spacingAndGlyphs" filter="url(#gL)" stroke="#262626" stroke-width="0.35" stroke-linejoin="round" >ม.ต้น</text>
<rect x="698.4" y="211.9" width="92.7" height="65.7" fill="url(#grn)" stroke="#000" stroke-width="2.8" />
<text x="745.6" y="238.0" font-size="14.6" font-weight="bold" fill="#262626" text-anchor="middle" font-family='"Liberation Sans","Loma","Noto Sans Thai Looped","Sarabun",sans-serif' textLength="80.0" lengthAdjust="spacingAndGlyphs" filter="url(#gL)" stroke="#262626" stroke-width="0.35" stroke-linejoin="round" >ห้องสอบที่ 3</text>
<text x="745.6" y="257.0" font-size="14.6" font-weight="bold" fill="#262626" text-anchor="middle" font-family='"Liberation Sans","Loma","Noto Sans Thai Looped","Sarabun",sans-serif' textLength="34.0" lengthAdjust="spacingAndGlyphs" filter="url(#gL)" stroke="#262626" stroke-width="0.35" stroke-linejoin="round" >ม.ต้น</text>
<rect x="818.4" y="211.9" width="93.2" height="65.7" fill="url(#org)" stroke="#000" stroke-width="2.8" />
<text x="864.4" y="238.0" font-size="14.6" font-weight="bold" fill="#262626" text-anchor="middle" font-family='"Liberation Sans","Loma","Noto Sans Thai Looped","Sarabun",sans-serif' textLength="80.0" lengthAdjust="spacingAndGlyphs" filter="url(#gL)" stroke="#262626" stroke-width="0.35" stroke-linejoin="round" >ห้องสอบที่ 1</text>
<text x="864.4" y="257.0" font-size="14.6" font-weight="bold" fill="#262626" text-anchor="middle" font-family='"Liberation Sans","Loma","Noto Sans Thai Looped","Sarabun",sans-serif' textLength="50.0" lengthAdjust="spacingAndGlyphs" filter="url(#gL)" stroke="#262626" stroke-width="0.35" stroke-linejoin="round" >ม.ปลาย</text>
<rect x="935.2" y="211.9" width="93.9" height="65.7" fill="url(#org)" stroke="#000" stroke-width="2.8" />
<text x="982.8" y="238.0" font-size="14.6" font-weight="bold" fill="#262626" text-anchor="middle" font-family='"Liberation Sans","Loma","Noto Sans Thai Looped","Sarabun",sans-serif' textLength="80.0" lengthAdjust="spacingAndGlyphs" filter="url(#gL)" stroke="#262626" stroke-width="0.35" stroke-linejoin="round" >ห้องสอบที่ 2</text>
<text x="982.8" y="257.0" font-size="14.6" font-weight="bold" fill="#262626" text-anchor="middle" font-family='"Liberation Sans","Loma","Noto Sans Thai Looped","Sarabun",sans-serif' textLength="50.0" lengthAdjust="spacingAndGlyphs" filter="url(#gL)" stroke="#262626" stroke-width="0.35" stroke-linejoin="round" >ม.ปลาย</text>
<rect x="392.4" y="296.4" width="216.7" height="68.0" fill="url(#org)" stroke="#000" stroke-width="2.8" />
<line x1="394.0" y1="297.5" x2="607.5" y2="363.5" stroke="#000" stroke-width="1.8"/>
<line x1="394.0" y1="363.5" x2="607.5" y2="297.5" stroke="#000" stroke-width="1.8"/>
<rect x="637.4" y="296.4" width="215.2" height="68.0" fill="url(#org)" stroke="#000" stroke-width="2.8" />
<line x1="639.0" y1="297.5" x2="851.0" y2="363.5" stroke="#000" stroke-width="1.8"/>
<line x1="639.0" y1="363.5" x2="851.0" y2="297.5" stroke="#000" stroke-width="1.8"/>
<rect x="880.4" y="296.4" width="214.2" height="68.0" fill="url(#org)" stroke="#000" stroke-width="2.8" />
<line x1="882.0" y1="297.5" x2="1093.0" y2="363.5" stroke="#000" stroke-width="1.8"/>
<line x1="882.0" y1="363.5" x2="1093.0" y2="297.5" stroke="#000" stroke-width="1.8"/>
<polygon points="374.0,377.0 374.0,442.5 497.5,442.5" fill="#dce6f2" stroke="#000" stroke-width="1.5" stroke-linejoin="miter" />
<polygon points="1104.5,377.0 1104.5,442.5 1006.0,442.5" fill="#dce6f2" stroke="#000" stroke-width="1.5" stroke-linejoin="miter" />
<rect x="619.0" y="376.5" width="333.5" height="66.5" fill="#d9d9d9" stroke="#000" stroke-width="2" />
<text x="779.5" y="400.5" font-size="15" font-weight="bold" fill="#352800" text-anchor="middle" font-family='"Liberation Sans","Loma","Noto Sans Thai Looped","Sarabun",sans-serif' textLength="116.0" lengthAdjust="spacingAndGlyphs" filter="url(#gY)" stroke="#352800" stroke-width="0.3" stroke-linejoin="round" >กองอำนวยการ</text>
<text x="780.0" y="422.5" font-size="15" font-weight="bold" fill="#352800" text-anchor="middle" font-family='"Liberation Sans","Loma","Noto Sans Thai Looped","Sarabun",sans-serif' textLength="222.0" lengthAdjust="spacingAndGlyphs" filter="url(#gY)" stroke="#352800" stroke-width="0.3" stroke-linejoin="round" >ห้องประชุมวัฒนาตั้งประกอบ</text>
<polygon points="443.6,427.2 406.9,412.1 408.7,407.7 391.4,411.7 400.9,426.7 402.7,422.3 439.4,437.4" fill="#ff0000" stroke="#2a0000" stroke-width="1.9" stroke-linejoin="miter" />
<polygon points="1050.4,439.4 1085.4,422.3 1087.5,426.6 1096.0,411.0 1078.5,408.2 1080.6,412.4 1045.6,429.6" fill="#ff0000" stroke="#2a0000" stroke-width="1.9" stroke-linejoin="miter" />
<text x="1138.0" y="155.0" font-size="14.5" font-weight="bold" fill="#3e1a02" text-anchor="middle" font-family='"Liberation Sans","Loma","Noto Sans Thai Looped","Sarabun",sans-serif' textLength="34.0" lengthAdjust="spacingAndGlyphs" filter="url(#gO)" stroke="#3e1a02" stroke-width="0.4" stroke-linejoin="round" >ชั้น4</text>
<text x="1135.5" y="247.5" font-size="14.5" font-weight="bold" fill="#3e1a02" text-anchor="middle" font-family='"Liberation Sans","Loma","Noto Sans Thai Looped","Sarabun",sans-serif' textLength="33.0" lengthAdjust="spacingAndGlyphs" filter="url(#gO)" stroke="#3e1a02" stroke-width="0.4" stroke-linejoin="round" >ชั้น3</text>
<text x="1135.8" y="336.0" font-size="14.5" font-weight="bold" fill="#3e1a02" text-anchor="middle" font-family='"Liberation Sans","Loma","Noto Sans Thai Looped","Sarabun",sans-serif' textLength="33.5" lengthAdjust="spacingAndGlyphs" filter="url(#gO)" stroke="#3e1a02" stroke-width="0.4" stroke-linejoin="round" >ชั้น2</text>
<text x="356.5" y="400.0" font-size="30" font-weight="bold" fill="#161000" text-anchor="middle" font-family='"Liberation Serif","Noto Serif Thai","Trirong","Liberation Sans",serif' textLength="76.0" lengthAdjust="spacingAndGlyphs" filter="url(#gY)" transform="rotate(-90 356.5 400.0)" stroke="#161000" stroke-width="0.7" stroke-linejoin="round" >ทางขึ้นที่ 2</text>
<text x="1144.5" y="402.0" font-size="30" font-weight="bold" fill="#161000" text-anchor="middle" font-family='"Liberation Serif","Noto Serif Thai","Trirong","Liberation Sans",serif' textLength="76.0" lengthAdjust="spacingAndGlyphs" filter="url(#gY)" transform="rotate(-90 1144.5 402.0)" stroke="#161000" stroke-width="0.7" stroke-linejoin="round" >ทางขึ้นที่ 1</text>
<polygon points="46.0,478.3 83.0,468.8 83.0,474.0 188.0,474.0 188.0,468.8 225.0,478.3 188.0,487.8 188.0,482.6 83.0,482.6 83.0,487.8" fill="#ff0000" stroke="#2a0000" stroke-width="1.9" stroke-linejoin="miter" />
<polygon points="366.0,478.3 403.0,468.8 403.0,474.0 507.0,474.0 507.0,468.8 544.0,478.3 507.0,487.8 507.0,482.6 403.0,482.6 403.0,487.8" fill="#ff0000" stroke="#2a0000" stroke-width="1.9" stroke-linejoin="miter" />
<polygon points="701.0,478.3 738.0,468.8 738.0,474.0 842.0,474.0 842.0,468.8 879.0,478.3 842.0,487.8 842.0,482.6 738.0,482.6 738.0,487.8" fill="#ff0000" stroke="#2a0000" stroke-width="1.9" stroke-linejoin="miter" />
<polygon points="984.0,478.3 1021.0,468.8 1021.0,474.0 1123.0,474.0 1123.0,468.8 1160.0,478.3 1123.0,487.8 1123.0,482.6 1021.0,482.6 1021.0,487.8" fill="#ff0000" stroke="#2a0000" stroke-width="1.9" stroke-linejoin="miter" />
<polygon points="246.0,467.5 305.5,467.5 305.5,489.0 267.0,489.0 267.0,507.5 277.0,507.5 256.5,529.0 236.0,507.5 246.0,507.5" fill="#ff0000" stroke="#2a0000" stroke-width="1.9" stroke-linejoin="miter" />
<polygon points="1192.0,468.0 1231.5,468.0 1231.5,500.0 1238.5,500.0 1224.7,517.0 1211.0,500.0 1218.5,500.0 1218.5,484.5 1192.0,484.5" fill="#ff0000" stroke="#2a0000" stroke-width="1.9" stroke-linejoin="miter" />
<polygon points="249.0,576.0 269.5,576.0 269.5,679.0 279.5,679.0 259.0,714.0 239.0,679.0 249.0,679.0" fill="#ff0000" stroke="#2a0000" stroke-width="1.9" stroke-linejoin="miter" />
<rect x="1298.0" y="415.0" width="88.0" height="444.0" fill="#b4602a" stroke="#2a1a10" stroke-width="1.8" />
<text x="1329.0" y="631.0" font-size="45" font-weight="normal" fill="#fff5e6" text-anchor="middle" font-family='"Liberation Sans","Loma","Noto Sans Thai Looped","Sarabun",sans-serif' textLength="342.0" lengthAdjust="spacingAndGlyphs" filter="url(#gK)" transform="rotate(90 1329.0 631.0)" >ประตูทางเข้าโรงเรียน</text>
<polygon points="1227.5,610.5 1286.0,610.5 1286.0,604.0 1306.0,617.3 1286.0,631.0 1286.0,624.0 1227.5,624.0" fill="#ff0000" stroke="#2a0000" stroke-width="1.9" stroke-linejoin="miter" />
<rect x="14" y="502.5" width="216" height="642" rx="35" fill="#fdf3d0" filter="url(#blur3)"/>
<rect x="15.5" y="504.5" width="213.0" height="638.0" fill="#fcf0cc" rx="33" />
<g clip-path="url(#cpP)">
<rect x="17" y="506" width="210" height="635" fill="url(#pH)"/>
<polygon points="17.0,506.0 227.0,506.0 122.0,823.5" fill="url(#pT)" />
<polygon points="17.0,1141.0 227.0,1141.0 122.0,823.5" fill="url(#pB)" />
</g>
<text x="86.5" y="825.0" font-size="39" font-weight="normal" fill="#000" text-anchor="middle" font-family='"Liberation Sans","Loma","Noto Sans Thai Looped","Sarabun",sans-serif' textLength="142.0" lengthAdjust="spacingAndGlyphs" filter="url(#gT)" transform="rotate(-90 86.5 825.0)" stroke="#000" stroke-width="0.9" stroke-linejoin="round" >อาคาร 3</text>
<text x="158.0" y="827.0" font-size="42" font-weight="normal" fill="#000" text-anchor="middle" font-family='"Liberation Sans","Loma","Noto Sans Thai Looped","Sarabun",sans-serif' textLength="299.0" lengthAdjust="spacingAndGlyphs" filter="url(#gT)" transform="rotate(-90 158.0 827.0)" stroke="#000" stroke-width="0.9" stroke-linejoin="round" >ห้องประชุมลีลาวดี</text>
<g clip-path="url(#cpG)"><rect x="394" y="501" width="731" height="140" fill="#5aa532" filter="url(#grass)"/><rect x="394" y="501" width="731" height="140" fill="url(#blades)" filter="url(#soft)"/></g>
<rect x="394.5" y="502" width="729.5" height="160" rx="36" fill="none" stroke="#000" stroke-width="3"/>
<text x="760.0" y="580.0" font-size="40" font-weight="normal" fill="#ffffff" text-anchor="middle" font-family='"Liberation Sans","Loma","Noto Sans Thai Looped","Sarabun",sans-serif' textLength="338.0" lengthAdjust="spacingAndGlyphs" filter="url(#gB)" >สนามหญ้าหน้าเสาธง</text>
<rect x="327.5" y="632.5" width="832.0" height="151.0" fill="#fbd66e" rx="23.5" />
<g clip-path="url(#cpD)">
<rect x="329.5" y="634.5" width="828.0" height="147.0" fill="url(#dH)"/>
<polygon points="329.5,634.5 1157.5,634.5 743.5,708.0" fill="url(#dT)" />
<polygon points="329.5,781.5 1157.5,781.5 743.5,708.0" fill="url(#dB)" />
</g>
<text x="742.0" y="724.0" font-size="42" font-weight="normal" fill="#ffffff" text-anchor="middle" font-family='"Liberation Sans","Loma","Noto Sans Thai Looped","Sarabun",sans-serif' textLength="283.0" lengthAdjust="spacingAndGlyphs" filter="url(#gW)" >โดมอเนกประสงค์</text>
<rect x="322.0" y="865.0" width="27.0" height="297.0" fill="#c5d9f1" />
<line x1="320.0" y1="864.0" x2="320.0" y2="1163.0" stroke="#000" stroke-width="4"/>
<rect x="1123.0" y="865.0" width="55.0" height="297.0" fill="#c5d9f1" />
<rect x="349.5" y="865.0" width="773.0" height="297.0" fill="#a5a5a5" stroke="#000" stroke-width="2.5" />
<rect x="350.5" y="877.5" width="771.0" height="68.0" fill="#00f9c9" stroke="#000" stroke-width="1.6" />
<rect x="350.5" y="953.0" width="771.0" height="67.5" fill="#00f9c9" stroke="#000" stroke-width="1.6" />
<rect x="350.5" y="1028.7" width="771.0" height="66.8" fill="#00f9c9" stroke="#000" stroke-width="1.6" />
<rect x="350.5" y="1105.0" width="771.0" height="57.0" fill="#5b9bd5" stroke="#000" stroke-width="1.6" />
<line x1="318.0" y1="1162.5" x2="1178.0" y2="1162.5" stroke="#000" stroke-width="2.6"/>
<polygon points="380.5,809.0 1113.0,809.0 1202.0,864.5 286.5,864.5" fill="url(#roof4)" stroke="#000" stroke-width="2" stroke-linejoin="miter" />
<text y="85.2" font-weight="bold" fill="#181000" stroke="#181000" stroke-width="0.8" stroke-linejoin="round" font-family='"Liberation Sans","Loma","Noto Sans Thai Looped","Sarabun",sans-serif' filter="url(#gYT)"><tspan x="637" font-size="41" textLength="137" lengthAdjust="spacingAndGlyphs">อาคาร</tspan><tspan x="790" font-size="35" textLength="31.5" lengthAdjust="spacingAndGlyphs"> 1</tspan></text>
<text y="852.4" font-weight="bold" fill="#120800" stroke="#120800" stroke-width="0.8" stroke-linejoin="round" font-family='"Liberation Sans","Loma","Noto Sans Thai Looped","Sarabun",sans-serif' filter="url(#gT4)"><tspan x="643" font-size="37" textLength="141" lengthAdjust="spacingAndGlyphs">อาคาร</tspan><tspan x="796" font-size="31" textLength="37" lengthAdjust="spacingAndGlyphs"> 4</tspan></text>
<rect x="381.0" y="887.0" width="139.0" height="57.5" fill="#7f7f7f" stroke="#000" stroke-width="3" />
<text x="452.5" y="920.0" font-size="14.6" font-weight="bold" fill="#ffffff" text-anchor="middle" font-family='"Liberation Sans","Loma","Noto Sans Thai Looped","Sarabun",sans-serif' textLength="58.0" lengthAdjust="spacingAndGlyphs" filter="url(#gD)" stroke="#ffffff" stroke-width="0.3" stroke-linejoin="round" >ไม่ได้ใช้</text>
<rect x="570.5" y="887.0" width="138.5" height="57.5" fill="#7f7f7f" stroke="#000" stroke-width="3" />
<text x="639.8" y="924.0" font-size="14.6" font-weight="bold" fill="#ffffff" text-anchor="middle" font-family='"Liberation Sans","Loma","Noto Sans Thai Looped","Sarabun",sans-serif' textLength="58.0" lengthAdjust="spacingAndGlyphs" filter="url(#gD)" stroke="#ffffff" stroke-width="0.3" stroke-linejoin="round" >ไม่ได้ใช้</text>
<rect x="763.8" y="887.0" width="138.3" height="57.5" fill="#7f7f7f" stroke="#000" stroke-width="3" />
<text x="837.0" y="924.0" font-size="14.6" font-weight="bold" fill="#ffffff" text-anchor="middle" font-family='"Liberation Sans","Loma","Noto Sans Thai Looped","Sarabun",sans-serif' textLength="58.0" lengthAdjust="spacingAndGlyphs" filter="url(#gD)" stroke="#ffffff" stroke-width="0.3" stroke-linejoin="round" >ไม่ได้ใช้</text>
<rect x="950.0" y="887.0" width="138.5" height="57.5" fill="#7f7f7f" stroke="#000" stroke-width="3" />
<text x="1019.2" y="924.0" font-size="14.6" font-weight="bold" fill="#ffffff" text-anchor="middle" font-family='"Liberation Sans","Loma","Noto Sans Thai Looped","Sarabun",sans-serif' textLength="58.0" lengthAdjust="spacingAndGlyphs" filter="url(#gD)" stroke="#ffffff" stroke-width="0.3" stroke-linejoin="round" >ไม่ได้ใช้</text>
<rect x="383.5" y="962.0" width="138.0" height="57.5" fill="#7f7f7f" stroke="#000" stroke-width="3" />
<text x="452.5" y="995.0" font-size="14.6" font-weight="bold" fill="#ffffff" text-anchor="middle" font-family='"Liberation Sans","Loma","Noto Sans Thai Looped","Sarabun",sans-serif' textLength="58.0" lengthAdjust="spacingAndGlyphs" filter="url(#gD)" stroke="#ffffff" stroke-width="0.3" stroke-linejoin="round" >ไม่ได้ใช้</text>
<rect x="570.5" y="962.0" width="138.5" height="57.5" fill="#7f7f7f" stroke="#000" stroke-width="3" />
<text x="639.8" y="995.0" font-size="14.6" font-weight="bold" fill="#ffffff" text-anchor="middle" font-family='"Liberation Sans","Loma","Noto Sans Thai Looped","Sarabun",sans-serif' textLength="58.0" lengthAdjust="spacingAndGlyphs" filter="url(#gD)" stroke="#ffffff" stroke-width="0.3" stroke-linejoin="round" >ไม่ได้ใช้</text>
<rect x="763.8" y="962.0" width="138.3" height="57.5" fill="url(#pnk)" stroke="#000" stroke-width="3" />
<text x="834.0" y="991.5" font-size="14.6" font-weight="bold" fill="#3a0a3a" text-anchor="middle" font-family='"Liberation Sans","Loma","Noto Sans Thai Looped","Sarabun",sans-serif' textLength="98.0" lengthAdjust="spacingAndGlyphs" filter="url(#gL)" stroke="#3a0a3a" stroke-width="0.35" stroke-linejoin="round" >ห้องสอบที่ 2</text>
<text x="833.0" y="1011.0" font-size="14.6" font-weight="bold" fill="#3a0a3a" text-anchor="middle" font-family='"Liberation Sans","Loma","Noto Sans Thai Looped","Sarabun",sans-serif' textLength="54.0" lengthAdjust="spacingAndGlyphs" filter="url(#gL)" stroke="#3a0a3a" stroke-width="0.35" stroke-linejoin="round" >ประถม</text>
<rect x="950.0" y="962.0" width="138.5" height="57.5" fill="url(#pnk)" stroke="#000" stroke-width="3" />
<text x="1023.2" y="991.5" font-size="14.6" font-weight="bold" fill="#3a0a3a" text-anchor="middle" font-family='"Liberation Sans","Loma","Noto Sans Thai Looped","Sarabun",sans-serif' textLength="98.0" lengthAdjust="spacingAndGlyphs" filter="url(#gL)" stroke="#3a0a3a" stroke-width="0.35" stroke-linejoin="round" >ห้องสอบที่ 1</text>
<text x="1023.2" y="1011.0" font-size="14.6" font-weight="bold" fill="#3a0a3a" text-anchor="middle" font-family='"Liberation Sans","Loma","Noto Sans Thai Looped","Sarabun",sans-serif' textLength="54.0" lengthAdjust="spacingAndGlyphs" filter="url(#gL)" stroke="#3a0a3a" stroke-width="0.35" stroke-linejoin="round" >ประถม</text>
<rect x="383.5" y="1037.5" width="138.0" height="57.0" fill="url(#grn)" stroke="#000" stroke-width="3" />
<text x="464.5" y="1062.0" font-size="14.6" font-weight="bold" fill="#1e2a10" text-anchor="middle" font-family='"Liberation Sans","Loma","Noto Sans Thai Looped","Sarabun",sans-serif' textLength="98.0" lengthAdjust="spacingAndGlyphs" filter="url(#gL)" stroke="#1e2a10" stroke-width="0.35" stroke-linejoin="round" >ห้องสอบที่ 7</text>
<text x="462.5" y="1082.0" font-size="14.6" font-weight="bold" fill="#1e2a10" text-anchor="middle" font-family='"Liberation Sans","Loma","Noto Sans Thai Looped","Sarabun",sans-serif' textLength="41.0" lengthAdjust="spacingAndGlyphs" filter="url(#gL)" stroke="#1e2a10" stroke-width="0.35" stroke-linejoin="round" >ม.ต้น</text>
<rect x="571.2" y="1037.5" width="138.3" height="57.0" fill="url(#grn)" stroke="#000" stroke-width="3" />
<text x="640.4" y="1063.0" font-size="14.6" font-weight="bold" fill="#1e2a10" text-anchor="middle" font-family='"Liberation Sans","Loma","Noto Sans Thai Looped","Sarabun",sans-serif' textLength="98.0" lengthAdjust="spacingAndGlyphs" filter="url(#gL)" stroke="#1e2a10" stroke-width="0.35" stroke-linejoin="round" >ห้องสอบที่ 6</text>
<text x="640.4" y="1083.0" font-size="14.6" font-weight="bold" fill="#1e2a10" text-anchor="middle" font-family='"Liberation Sans","Loma","Noto Sans Thai Looped","Sarabun",sans-serif' textLength="41.0" lengthAdjust="spacingAndGlyphs" filter="url(#gL)" stroke="#1e2a10" stroke-width="0.35" stroke-linejoin="round" >ม.ต้น</text>
<rect x="767.9" y="1037.5" width="138.3" height="57.0" fill="url(#grn)" stroke="#000" stroke-width="3" />
<text x="834.0" y="1064.0" font-size="14.6" font-weight="bold" fill="#1e2a10" text-anchor="middle" font-family='"Liberation Sans","Loma","Noto Sans Thai Looped","Sarabun",sans-serif' textLength="98.0" lengthAdjust="spacingAndGlyphs" filter="url(#gL)" stroke="#1e2a10" stroke-width="0.35" stroke-linejoin="round" >ห้องสอบที่ 5</text>
<text x="837.0" y="1084.0" font-size="14.6" font-weight="bold" fill="#1e2a10" text-anchor="middle" font-family='"Liberation Sans","Loma","Noto Sans Thai Looped","Sarabun",sans-serif' textLength="41.0" lengthAdjust="spacingAndGlyphs" filter="url(#gL)" stroke="#1e2a10" stroke-width="0.35" stroke-linejoin="round" >ม.ต้น</text>
<rect x="950.0" y="1037.5" width="138.5" height="57.0" fill="url(#grn)" stroke="#000" stroke-width="3" />
<text x="1019.2" y="1066.0" font-size="14.6" font-weight="bold" fill="#1e2a10" text-anchor="middle" font-family='"Liberation Sans","Loma","Noto Sans Thai Looped","Sarabun",sans-serif' textLength="98.0" lengthAdjust="spacingAndGlyphs" filter="url(#gL)" stroke="#1e2a10" stroke-width="0.35" stroke-linejoin="round" >ห้องสอบที่ 4</text>
<text x="1019.2" y="1086.0" font-size="14.6" font-weight="bold" fill="#1e2a10" text-anchor="middle" font-family='"Liberation Sans","Loma","Noto Sans Thai Looped","Sarabun",sans-serif' textLength="41.0" lengthAdjust="spacingAndGlyphs" filter="url(#gL)" stroke="#1e2a10" stroke-width="0.35" stroke-linejoin="round" >ม.ต้น</text>
<rect x="358.5" y="1110.5" width="224.5" height="49.5" fill="#c5d9f1" stroke="#000" stroke-width="1.3" rx="11" />
<text x="468.0" y="1139.0" font-size="14.6" font-weight="bold" fill="#3d2a00" text-anchor="middle" font-family='"Liberation Sans","Loma","Noto Sans Thai Looped","Sarabun",sans-serif' textLength="54.0" lengthAdjust="spacingAndGlyphs" filter="url(#gY)" stroke="#3d2a00" stroke-width="0.3" stroke-linejoin="round" >ห้องน้ำ</text>
<polygon points="1120.0,1106.0 1120.0,1161.5 979.0,1161.5" fill="#dce6f2" stroke="#000" stroke-width="1.3" stroke-linejoin="miter" />
<polygon points="1051.0,1161.6 1091.2,1143.9 1093.0,1148.0 1102.0,1133.7 1085.4,1130.6 1087.2,1134.8 1047.0,1152.4" fill="#ff0000" stroke="#2a0000" stroke-width="1.9" stroke-linejoin="miter" />
<text x="1155.0" y="898.0" font-size="14.5" font-weight="bold" fill="#3e1a02" text-anchor="middle" font-family='"Liberation Sans","Loma","Noto Sans Thai Looped","Sarabun",sans-serif' textLength="35.0" lengthAdjust="spacingAndGlyphs" filter="url(#gO)" stroke="#3e1a02" stroke-width="0.4" stroke-linejoin="round" >ชั้น4</text>
<text x="1152.5" y="971.0" font-size="14.5" font-weight="bold" fill="#3e1a02" text-anchor="middle" font-family='"Liberation Sans","Loma","Noto Sans Thai Looped","Sarabun",sans-serif' textLength="35.0" lengthAdjust="spacingAndGlyphs" filter="url(#gO)" stroke="#3e1a02" stroke-width="0.4" stroke-linejoin="round" >ชั้น3</text>
<text x="1152.5" y="1047.5" font-size="14.5" font-weight="bold" fill="#3e1a02" text-anchor="middle" font-family='"Liberation Sans","Loma","Noto Sans Thai Looped","Sarabun",sans-serif' textLength="35.0" lengthAdjust="spacingAndGlyphs" filter="url(#gO)" stroke="#3e1a02" stroke-width="0.4" stroke-linejoin="round" >ชั้น2</text>
<text x="1161.0" y="1123.5" font-size="27" font-weight="bold" fill="#161000" text-anchor="middle" font-family='"Liberation Serif","Noto Serif Thai","Trirong","Liberation Sans",serif' textLength="66.0" lengthAdjust="spacingAndGlyphs" filter="url(#gY)" transform="rotate(-90 1161.0 1123.5)" stroke="#161000" stroke-width="0.7" stroke-linejoin="round" >ทางขึ้นที่ 1</text>
</svg></body></html>
